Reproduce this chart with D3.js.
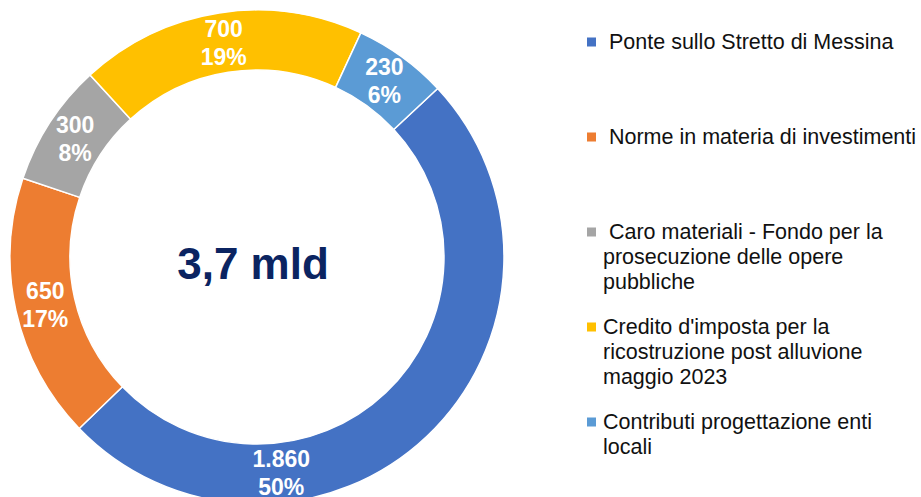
<!DOCTYPE html>
<html>
<head>
<meta charset="utf-8">
<script src="https://cdn.jsdelivr.net/npm/d3@7"></script>
<style>
  html, body { margin: 0; padding: 0; background: #fff; }
  svg { display: block; font-family: "Liberation Sans", Arial, sans-serif; }
</style>
</head>
<body>
<svg id="chart" width="921" height="497"></svg>
<script>
// ---- data ----
const categories = [
  "Ponte sullo Stretto di Messina",
  "Norme in materia di investimenti",
  "Caro materiali - Fondo per la prosecuzione delle opere pubbliche",
  "Credito d'imposta per la ricostruzione post alluvione maggio 2023",
  "Contributi progettazione enti locali"
];
const values = [1860, 650, 300, 700, 230];
const valueLabels = ["1.860", "650", "300", "700", "230"];
const percentLabels = ["50%", "17%", "8%", "19%", "6%"];
const legendLines = [
  [" Ponte sullo Stretto di Messina"],
  [" Norme in materia di investimenti"],
  [" Caro materiali - Fondo per la", "prosecuzione delle opere", "pubbliche"],
  ["Credito d'imposta per la", "ricostruzione post alluvione", "maggio 2023"],
  ["Contributi progettazione enti", "locali"]
];
const centerLabel = "3,7 mld";
const colors = ["#4472C4", "#ED7D31", "#A5A5A5", "#FFC000", "#5B9BD5"];

// ---- layout ----
const cx = 257, cy = 257, rOuter = 247, rInner = 187;
const startDeg = 47;
const labelFrac = [0.707, 0.5, 0.5, 0.5, 0.5]; // where in each slice the label sits

const svg = d3.select("#chart");
const color = d3.scaleOrdinal().domain(categories).range(colors);

const data = categories.map((c, i) => ({ cat: c, value: values[i], i }));

const pie = d3.pie()
  .value(d => d.value)
  .sort(null)
  .startAngle(startDeg * Math.PI / 180)
  .endAngle(startDeg * Math.PI / 180 + 2 * Math.PI);

const arc = d3.arc().innerRadius(rInner).outerRadius(rOuter);
const arcs = pie(data);

const g = svg.append("g").attr("transform", `translate(${cx},${cy})`);

g.selectAll("path.slice")
  .data(arcs)
  .join("path")
  .attr("class", "slice")
  .attr("d", arc)
  .attr("fill", d => color(d.data.cat))
  .attr("stroke", "#fff")
  .attr("stroke-width", 1.5);

// slice labels
const rMid = (rInner + rOuter) / 2;
const lab = g.selectAll("g.lab")
  .data(arcs)
  .join("g")
  .attr("class", "lab")
  .attr("transform", d => {
    const a = d.startAngle + (d.endAngle - d.startAngle) * labelFrac[d.data.i];
    return `translate(${rMid * Math.sin(a)},${-rMid * Math.cos(a)})`;
  });

lab.append("text")
  .attr("text-anchor", "middle")
  .attr("y", -6)
  .attr("fill", "#fff")
  .attr("font-weight", "bold")
  .attr("font-size", 23)
  .text(d => valueLabels[d.data.i]);

lab.append("text")
  .attr("text-anchor", "middle")
  .attr("y", 22)
  .attr("fill", "#fff")
  .attr("font-weight", "bold")
  .attr("font-size", 23)
  .text(d => percentLabels[d.data.i]);

// center label
g.append("text")
  .attr("text-anchor", "middle")
  .attr("x", -4)
  .attr("y", 22)
  .attr("fill", "#0B2461")
  .attr("font-weight", "bold")
  .attr("font-size", 44)
  .text(centerLabel);

// legend
const ly = d3.scalePoint().domain(categories).range([42, 422]);
const leg = svg.append("g").selectAll("g.leg")
  .data(categories)
  .join("g")
  .attr("class", "leg")
  .attr("transform", d => `translate(0,${ly(d)})`);

leg.append("rect")
  .attr("x", 587)
  .attr("y", -4.5)
  .attr("width", 9)
  .attr("height", 9)
  .attr("fill", d => color(d));

leg.each(function(d, i) {
  const t = d3.select(this).append("text")
    .attr("x", 603)
    .attr("y", 6.5)
    .attr("fill", "#111")
    .attr("font-size", 21.5)
    .style("white-space", "pre");
  legendLines[i].forEach((line, k) => {
    t.append("tspan")
      .attr("x", 603)
      .attr("dy", k === 0 ? 0 : 25)
      .text(line);
  });
});
</script>
</body>
</html>
